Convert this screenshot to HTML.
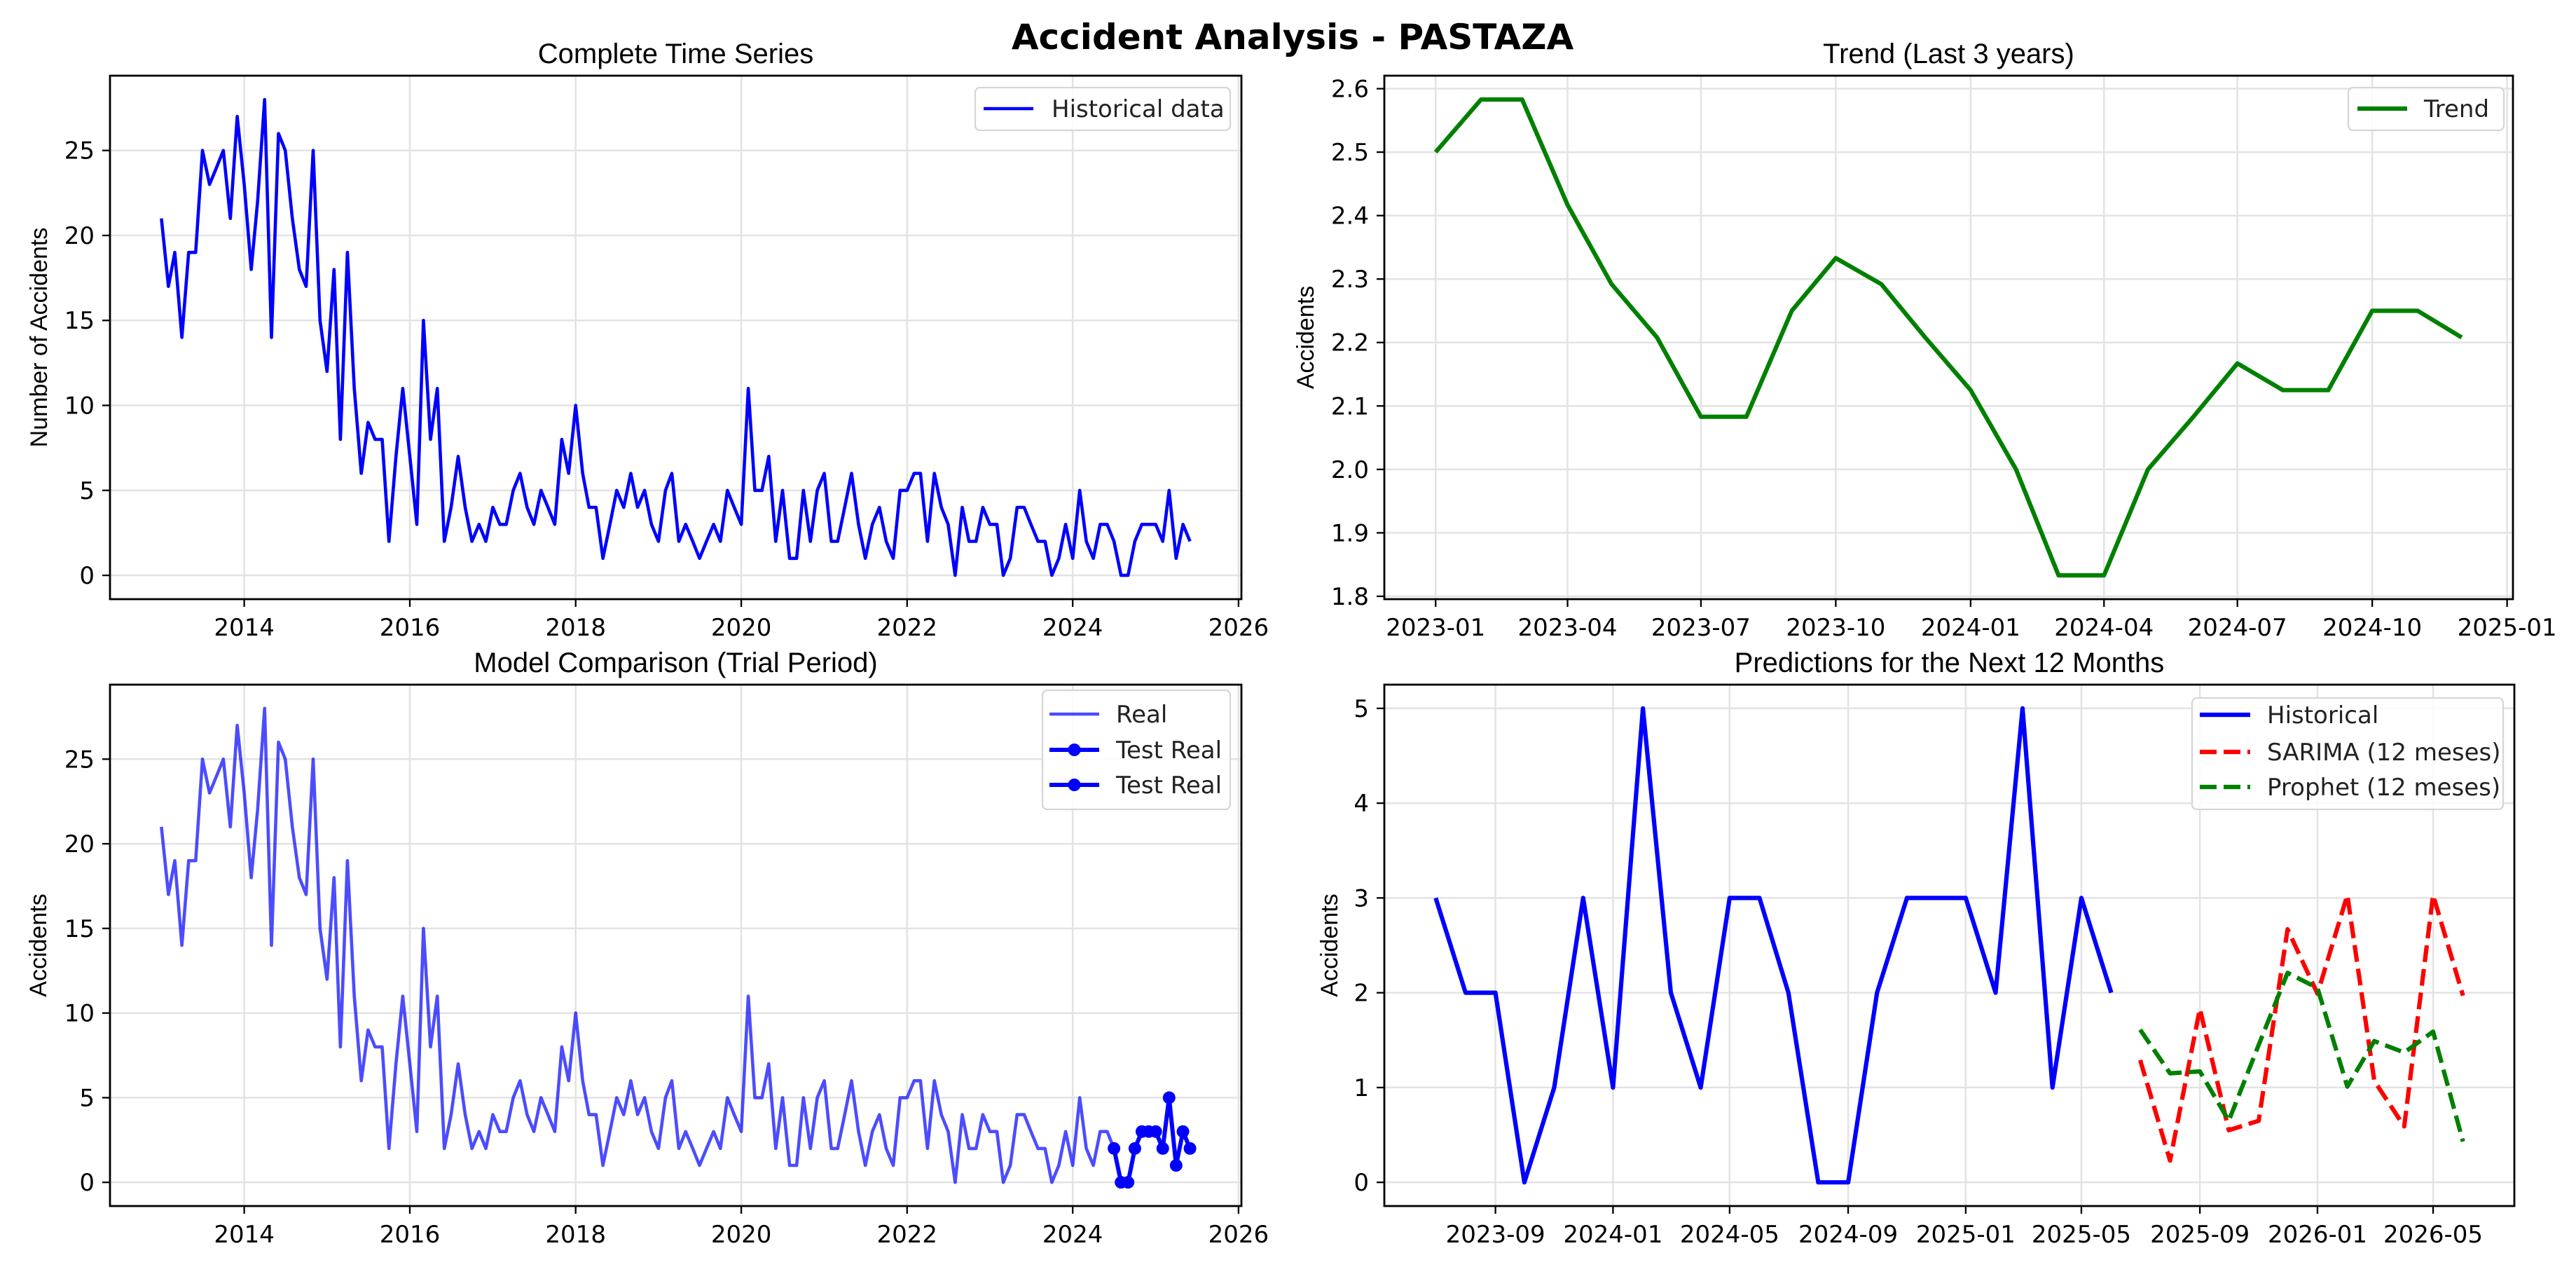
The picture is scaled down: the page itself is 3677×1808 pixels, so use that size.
<!DOCTYPE html>
<html><head><meta charset="utf-8"><style>
html,body{margin:0;padding:0;background:#fff;}
svg{display:block;font-family:"DejaVu Sans","Liberation Sans",sans-serif;}
</style></head><body>
<svg id="fig" width="3677" height="1808" viewBox="0 0 3677 1808" xmlns="http://www.w3.org/2000/svg">
<rect width="3677" height="1808" fill="#fff"/>
<text x="1845" y="70" text-anchor="middle" font-size="50" font-weight="bold" font-family="DejaVu Sans, sans-serif">Accident Analysis - PASTAZA</text>
</svg>
<script>
// ---- data ----
const histStart = [2013, 0];
const histValues = [
21,17,19,14,19,19,25,23,24,25,21,27,
23,18,22,28,14,26,25,21,18,17,25,15,
12,18,8,19,11,6,9,8,8,2,7,11,
7,3,15,8,11,2,4,7,4,2,3,2,
4,3,3,5,6,4,3,5,4,3,8,6,
10,6,4,4,1,3,5,4,6,4,5,3,
2,5,6,2,3,2,1,2,3,2,5,4,
3,11,5,5,7,2,5,1,1,5,2,5,
6,2,2,4,6,3,1,3,4,2,1,5,
5,6,6,2,6,4,3,0,4,2,2,4,
3,3,0,1,4,4,3,2,2,0,1,3,
1,5,2,1,3,3,2,0,0,2,3,3,
3,2,5,1,3,2];
const testCount = 12;
const trendStart = [2023, 0];
const trendValues = [2.5,2.583,2.583,2.417,2.292,2.208,2.083,2.083,2.25,2.333,2.292,2.208,
2.125,2.0,1.833,1.833,2.0,2.083,2.167,2.125,2.125,2.25,2.25,2.208];
const recentCount = 24;
const fcStart = [2025, 6];
const sarimaValues = [1.29,0.23,1.83,0.55,0.65,2.67,1.99,3.03,1.07,0.59,3.03,1.97];
const prophetValues = [1.61,1.15,1.17,0.65,1.45,2.21,2.05,1.01,1.49,1.37,1.59,0.43];
const tlXTicks = [2014,2016,2018,2020,2022,2024,2026];
const tlYTicks = [0,5,10,15,20,25];
const trYTicks = [1.8,1.9,2.0,2.1,2.2,2.3,2.4,2.5,2.6];
const trXTicks = ["2023-01","2023-04","2023-07","2023-10","2024-01","2024-04","2024-07","2024-10","2025-01"];
const brXTicks = ["2023-09","2024-01","2024-05","2024-09","2025-01","2025-05","2025-09","2026-01","2026-05"];
const brYTicks = [0,1,2,3,4,5];

const NS="http://www.w3.org/2000/svg";
const svg=document.getElementById('fig');
function mk(tag,attrs,parent){const e=document.createElementNS(NS,tag);for(const k in attrs)e.setAttribute(k,attrs[k]);(parent||svg).appendChild(e);return e;}
function day(y,m){return Date.UTC(y,m,1)/86400000;}
function monthDays(start,n){const a=[];for(let i=0;i<n;i++){a.push(day(start[0],start[1]+i));}return a;}
function parseYM(s){const p=s.split('-');return day(+p[0],+p[1]-1);}

function makeAxes(name,box,xlim,ylim){
  const g=mk('g',{});
  
  
  const sx=v=>box.l+(v-xlim[0])/(xlim[1]-xlim[0])*(box.r-box.l);
  const sy=v=>box.b-(v-ylim[0])/(ylim[1]-ylim[0])*(box.b-box.t);
  return {g,sx,sy,box};
}
function pad(a,b){const d=(b-a)*0.05;return [a-d,b+d];}
function grid(ax,xt,yt,xl,yl,fmtY){
  const {g,sx,sy,box}=ax;
  const gg=mk('g',{},g);
  
  
  xt.forEach((v,i)=>{const x=sx(v);
    const gl=mk('line',{x1:x,x2:x,y1:box.t,y2:box.b,stroke:'#e3e3e3','stroke-width':2.5},gg);
    
    mk('line',{x1:x,x2:x,y1:box.b,y2:box.b+11,stroke:'#000','stroke-width':2.3},g);
    const t=mk('text',{x:x,y:box.b+52,'text-anchor':'middle','font-size':34,fill:'#000'},g);
    
    t.textContent=xl[i];});
  yt.forEach((v,i)=>{const y=sy(v);
    const gl=mk('line',{x1:box.l,x2:box.r,y1:y,y2:y,stroke:'#e3e3e3','stroke-width':2.5},gg);
    
    mk('line',{x1:box.l-11,x2:box.l,y1:y,y2:y,stroke:'#000','stroke-width':2.3},g);
    const t=mk('text',{x:box.l-22,y:y+12,'text-anchor':'end','font-size':34,fill:'#000'},g);
    
    t.textContent=yl[i];});
}
function frame(ax){const b=ax.box;const r=mk('rect',{x:b.l,y:b.t,width:b.r-b.l,height:b.b-b.t,fill:'none',stroke:'#000','stroke-width':2.8},ax.g);
  }
function line(ax,xs,ys,attrs,name){const pts=xs.map((x,i)=>ax.sx(x).toFixed(1)+','+ax.sy(ys[i]).toFixed(1)).join(' ');
  const p=mk('polyline',Object.assign({points:pts,fill:'none','stroke-linejoin':'round'},attrs),ax.g);
  return p;}
function title(ax,txt,name){const b=ax.box;const t=mk('text',{x:(b.l+b.r)/2,y:b.t-18,'text-anchor':'middle','font-size':40,'font-family':'Liberation Sans, sans-serif'},ax.g);
  t.textContent=txt;}
function ylabel(ax,txt,x){const b=ax.box;const cy=(b.t+b.b)/2;const t=mk('text',{x:x,y:cy,'text-anchor':'middle','font-size':34,'font-family':'Liberation Sans, sans-serif',transform:`rotate(-90 ${x} ${cy})`,'dominant-baseline':'middle'},ax.g);
  t.textContent=txt;}
function legend(ax,box,entries){
  const g=mk('g',{},ax.g);
  
  
  mk('rect',{x:box.x,y:box.y,width:box.w,height:box.h,rx:7,fill:'#fff','fill-opacity':0.85,stroke:'#d6d6d6','stroke-width':2.3},g);
  entries.forEach(e=>{
    const eg=mk('g',{},g);
    
    
    mk('line',Object.assign({x1:e.x1,x2:e.x2,y1:e.y,y2:e.y},e.style),eg);
    if(e.marker)mk('circle',{cx:(e.x1+e.x2)/2,cy:e.y,r:9,fill:e.style.stroke},eg);
    const t=mk('text',{x:e.tx,y:e.y+12,'font-size':34,fill:'#222'},eg);t.textContent=e.label;});
}

const histX=monthDays(histStart,histValues.length);
const tlXlim=pad(histX[0],histX[histX.length-1]);
const tlYlim=pad(0,Math.max(...histValues));
const yearDays=tlXTicks.map(y=>day(y,0));

// ---- Top-left ----
const tl=makeAxes('complete-time-series-chart',{l:157,r:1772,t:108,b:855},tlXlim,tlYlim);
grid(tl,yearDays,tlYTicks,tlXTicks.map(String),tlYTicks.map(String));
line(tl,histX,histValues,{stroke:'#0000ff','stroke-width':4.6},'historical-data-line');
frame(tl);title(tl,'Complete Time Series','complete-series-title');ylabel(tl,'Number of Accidents',58);
legend(tl,{x:1392,y:125,w:364,h:61},[{x1:1404,x2:1475,y:155,tx:1501,label:'Historical data',style:{stroke:'#0000ff','stroke-width':4.6}}]);

// ---- Top-right ----
const trX=monthDays(trendStart,trendValues.length);
const tr=makeAxes('trend-chart',{l:1976,r:3587,t:108,b:855},pad(trX[0],trX[trX.length-1]),pad(Math.min(...trendValues),Math.max(...trendValues)));
grid(tr,trXTicks.map(parseYM),trYTicks,trXTicks,trYTicks.map(v=>v.toFixed(1)));
line(tr,trX,trendValues,{stroke:'#008000','stroke-width':6.2},'trend-line');
frame(tr);title(tr,'Trend (Last 3 years)','trend-title');ylabel(tr,'Accidents',1866);
legend(tr,{x:3352,y:125,w:222,h:61},[{x1:3365,x2:3436,y:155,tx:3460,label:'Trend',style:{stroke:'#008000','stroke-width':6.2}}]);

// ---- Bottom-left ----
const bl=makeAxes('model-comparison-chart',{l:157,r:1772,t:977,b:1721},tlXlim,tlYlim);
grid(bl,yearDays,tlYTicks,tlXTicks.map(String),tlYTicks.map(String));
line(bl,histX,histValues,{stroke:'#0000ff','stroke-opacity':0.7,'stroke-width':4.6},'real-line');
const testX=histX.slice(-testCount),testY=histValues.slice(-testCount);
line(bl,testX,testY,{stroke:'#0000ff','stroke-width':6},'test-real-line');
testX.forEach((x,i)=>{const c=mk('circle',{cx:bl.sx(x),cy:bl.sy(testY[i]),r:9,fill:'#0000ff'},bl.g);
  });
frame(bl);title(bl,'Model Comparison (Trial Period)','model-comparison-title');ylabel(bl,'Accidents',57);
legend(bl,{x:1488,y:985,w:268,h:170},[
 {x1:1498,x2:1569,y:1019,tx:1593,label:'Real',style:{stroke:'#0000ff','stroke-opacity':0.7,'stroke-width':4.6}},
 {x1:1498,x2:1569,y:1070,tx:1593,label:'Test Real',marker:true,style:{stroke:'#0000ff','stroke-width':6}},
 {x1:1498,x2:1569,y:1120,tx:1593,label:'Test Real',marker:true,style:{stroke:'#0000ff','stroke-width':6}}]);

// ---- Bottom-right ----
const recX=histX.slice(-recentCount),recY=histValues.slice(-recentCount);
const fcX=monthDays(fcStart,sarimaValues.length);
const allY=recY.concat(sarimaValues,prophetValues);
const br=makeAxes('predictions-chart',{l:1976,r:3589,t:977,b:1721},pad(recX[0],fcX[fcX.length-1]),pad(Math.min(...allY),Math.max(...allY)));
grid(br,brXTicks.map(parseYM),brYTicks,brXTicks,brYTicks.map(String));
line(br,recX,recY,{stroke:'#0000ff','stroke-width':6.2},'historical-line');
line(br,fcX,sarimaValues,{stroke:'#ff0000','stroke-width':6.2,'stroke-dasharray':'24 10'},'sarima-forecast-line');
line(br,fcX,prophetValues,{stroke:'#008000','stroke-width':6.2,'stroke-dasharray':'24 10'},'prophet-forecast-line');
frame(br);title(br,'Predictions for the Next 12 Months','predictions-title');ylabel(br,'Accidents',1900);
legend(br,{x:3129,y:996,w:444,h:159},[
 {x1:3140,x2:3212,y:1020,tx:3236,label:'Historical',style:{stroke:'#0000ff','stroke-width':6.2}},
 {x1:3140,x2:3212,y:1073,tx:3236,label:'SARIMA (12 meses)',style:{stroke:'#ff0000','stroke-width':6.2,'stroke-dasharray':'24 10'}},
 {x1:3140,x2:3212,y:1123,tx:3236,label:'Prophet (12 meses)',style:{stroke:'#008000','stroke-width':6.2,'stroke-dasharray':'24 10'}}]);
</script>
</body></html>
